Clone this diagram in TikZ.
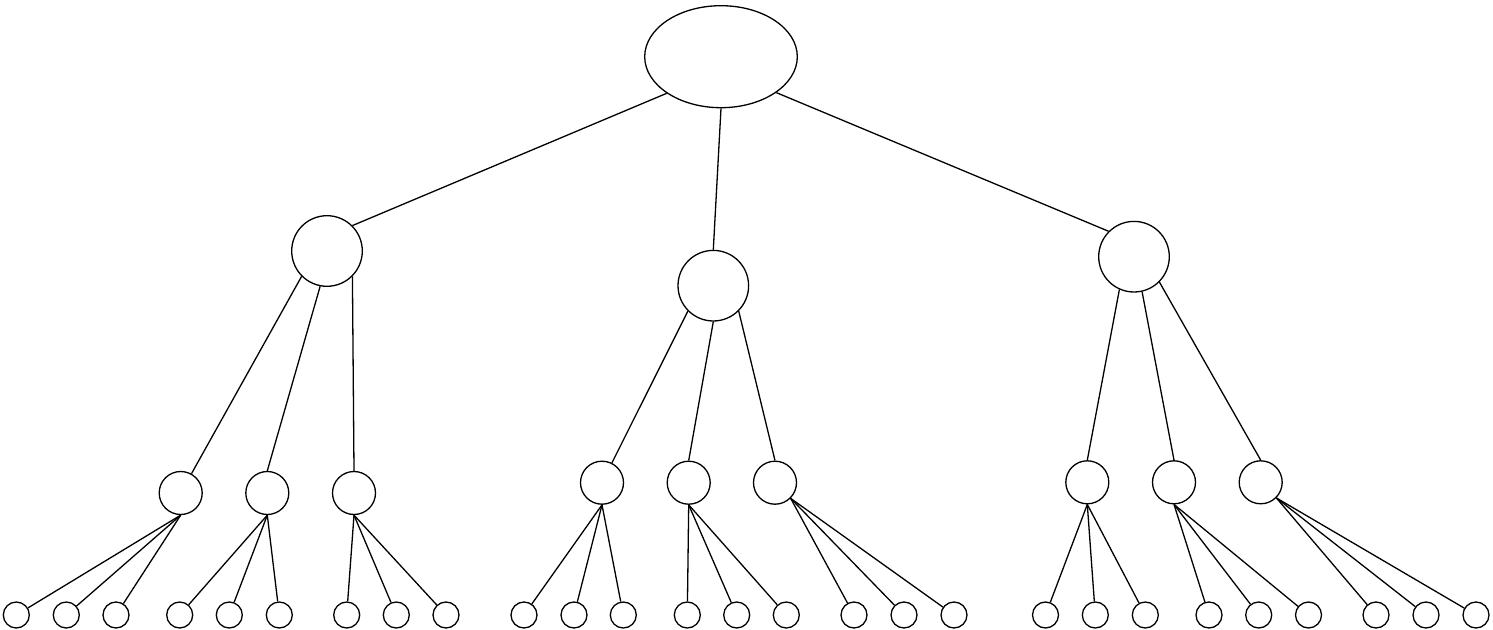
\documentclass[tikz,border=0pt]{standalone}
\usetikzlibrary{shapes.geometric}
\tikzset{
  rootnode/.style={draw, ellipse, minimum width=76.3pt, minimum height=51pt, inner sep=0pt},
  midnode/.style={draw, circle, minimum size=35.3pt, inner sep=0pt},
  smallnode/.style={draw, circle, minimum size=21.5pt, inner sep=0pt},
  leafnode/.style={draw, circle, minimum size=13pt, inner sep=0pt},
}
\begin{document}
\begin{tikzpicture}[x=0.5pt, y=-0.5pt, line width=0.65pt]
  \useasboundingbox (0,0) rectangle (1493,630);
  % top
  \node[rootnode] (root) at (721,56.7) {};
  % first level
  \node[midnode] (A) at (327,251) {};
  \node[midnode] (B) at (713.3,285.7) {};
  \node[midnode] (C) at (1134,256.7) {};
  \draw (root.214) -- (A.north east);
  \draw (root.south) -- (B.north);
  \draw (root.-33) -- (C.north west);
  % second level
  \node[smallnode] (A1) at (180.7,493) {};
  \node[smallnode] (A2) at (267.3,493) {};
  \node[smallnode] (A3) at (354,493) {};
  \node[smallnode] (B1) at (602,482.7) {};
  \node[smallnode] (B2) at (688.7,482.7) {};
  \node[smallnode] (B3) at (775,482.7) {};
  \node[smallnode] (C1) at (1087.3,482.3) {};
  \node[smallnode] (C2) at (1174,482.3) {};
  \node[smallnode] (C3) at (1260.7,482.3) {};
  \draw (A.south west) -- (A1);
  \draw (A.-101) -- (A2.north);
  \draw (A.south east) -- (A3.north);
  \draw (B.south west) -- (B1);
  \draw (B.south) -- (B2.north);
  \draw (B.south east) -- (B3.north);
  \draw (C.-114) -- (C1.north);
  \draw (C.-77) -- (C2.north);
  \draw (C.south east) -- (C3.north);
  % leaves
  \foreach \p/\anc/\xa/\xb/\xc in {A1/south/16.3/66.3/116, A2/south/179.7/229.3/279.3,
      A3/south/346.7/396.3/446, B1/south/524/574/623.3, B2/south/687.3/736.7/786.3,
      B3/south east/854/904/954, C1/south/1045.5/1095.3/1145.3,
      C2/south/1209/1258.7/1308.5, C3/south east/1376/1426/1476}
  {
    \foreach \x [count=\i] in {\xa,\xb,\xc} {
      \node[leafnode] (\p\i) at (\x,615) {};
      \draw (\p.\anc) -- (\p\i);
    }
  }
\end{tikzpicture}
\end{document}
